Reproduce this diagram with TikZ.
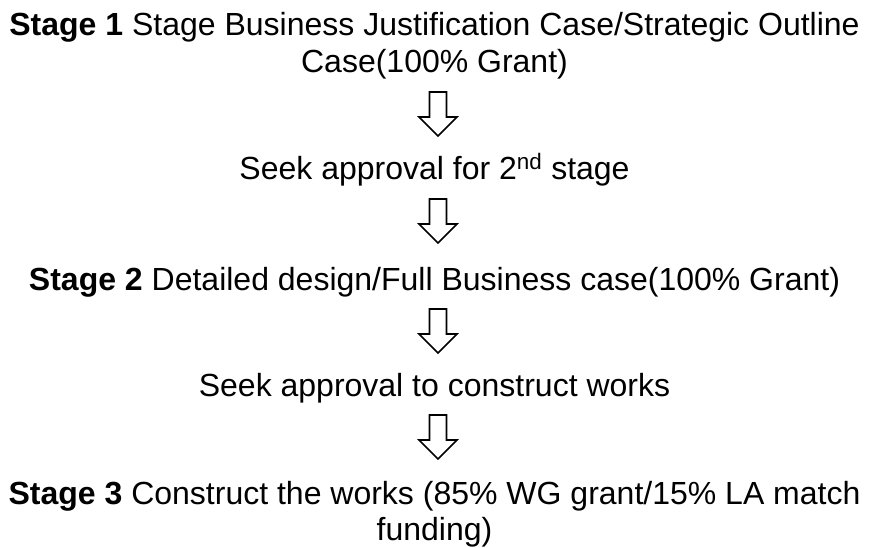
\documentclass[tikz,border=0pt]{standalone}
\usepackage{fontspec}
\setmainfont{Liberation Sans}
\begin{document}
\begin{tikzpicture}[x=1pt,y=-1pt,
  txt/.style={anchor=base,inner sep=0pt,font=\fontsize{32}{37}\selectfont},
  blockarrow/.style={draw=black,line width=1.6pt,fill=white,line join=miter}]
\useasboundingbox (0,0) rectangle (869,547);
\node[txt] (s1) at (434.5,35) {\textbf{Stage 1} Stage Business Justification Case/Strategic Outline};
\node[txt] (s1b) at (434.5,72) {Case(100\% Grant)};
\node[txt] (q1) at (434.5,179) {Seek approval for 2\textsuperscript{nd} stage};
\node[txt] (s2) at (434.5,290) {\textbf{Stage 2} Detailed design/Full Business case(100\% Grant)};
\node[txt] (q2) at (434.5,396) {Seek approval to construct works};
\node[txt] (s3) at (434.5,504) {\textbf{Stage 3} Construct the works (85\% WG grant/15\% LA match};
\node[txt] (s3b) at (434.5,540) {funding)};
\foreach \n/\t in {a1/92,a2/199,a3/309,a4/415}{
  \coordinate (\n) at (438,\t);
  \draw[blockarrow] (\n) ++(-8.5,0) -- ++(17,0) -- ++(0,25) -- ++(10.5,0)
     -- ++(-19,19) -- ++(-19,-19) -- ++(10.5,0) -- cycle;
}
\end{tikzpicture}
\end{document}
